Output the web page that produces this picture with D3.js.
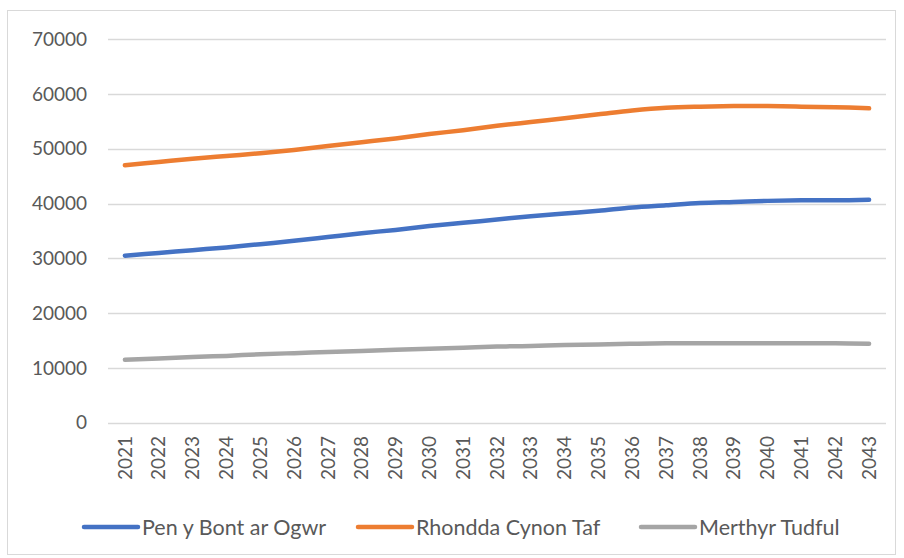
<!DOCTYPE html>
<html>
<head>
<meta charset="utf-8">
<script src="https://d3js.org/d3.v7.min.js"></script>
<style>
body { margin: 0; background: #fff; font-family: Lato, "Open Sans", sans-serif; }
text { fill: #595959; }
</style>
</head>
<body>
<svg id="chart"></svg>
<script>
var years = ["2021","2022","2023","2024","2025","2026","2027","2028","2029","2030","2031","2032",
             "2033","2034","2035","2036","2037","2038","2039","2040","2041","2042","2043"];

var penybont = [30500,31000,31500,32000,32600,33200,33900,34600,35200,35900,36500,37100,
                37700,38200,38700,39300,39700,40100,40300,40500,40600,40600,40700];
var rhondda  = [47000,47600,48200,48700,49200,49800,50500,51200,51900,52700,53400,54200,
                54900,55600,56300,57000,57500,57700,57800,57800,57700,57600,57400];
var merthyr  = [11500,11700,12000,12200,12500,12700,12900,13100,13300,13500,13700,13900,
                14000,14200,14300,14400,14500,14500,14500,14500,14500,14500,14400];

var seriesNames = ["Pen y Bont ar Ogwr", "Rhondda Cynon Taf", "Merthyr Tudful"];
var yTicks = [0,10000,20000,30000,40000,50000,60000,70000];

var W = 904, H = 558;
var svg = d3.select("#chart").attr("width", W).attr("height", H);

// chart frame
svg.append("rect")
  .attr("x", 7.5).attr("y", 10.5)
  .attr("width", 888).attr("height", 544)
  .style("fill", "#fff").style("stroke", "#d9d9d9").style("stroke-width", 1);

var x = d3.scaleBand().domain(years).range([108, 886]).padding(0);
var y = d3.scaleLinear().domain([0, 70000]).range([422.7, 39.3]);

// gridlines
svg.append("g").selectAll("line").data(yTicks).enter().append("line")
  .attr("x1", 108).attr("x2", 886)
  .attr("y1", function(d){ return Math.round(y(d)) + 0.5; })
  .attr("y2", function(d){ return Math.round(y(d)) + 0.5; })
  .style("stroke", "#d9d9d9").style("stroke-width", 1.5);

// y axis labels
var yAxis = d3.axisLeft(y).tickValues(yTicks).tickSize(0).tickPadding(0)
  .tickFormat(function(d){ return d; });
var gy = svg.append("g").attr("transform", "translate(87,0)").call(yAxis);
gy.select(".domain").remove();
gy.selectAll("text").style("font-size", "19px").style("font-family", "Lato, sans-serif").style("fill", "#595959");

// x axis labels (rotated)
var gx = svg.append("g");
gx.selectAll("text").data(years).enter().append("text")
  .attr("transform", function(d){ return "translate(" + (x(d) + x.bandwidth()/2) + ",436) rotate(-90)"; })
  .attr("dy", "0.35em")
  .style("text-anchor", "end")
  .style("font-size", "19px")
  .text(function(d){ return d; });

// lines
var colors = ["#4472c4", "#ed7d31", "#a5a5a5"];
var data = [penybont, rhondda, merthyr];
var line = d3.line()
  .x(function(d, i){ return x(years[i]) + x.bandwidth()/2; })
  .y(function(d){ return y(d); })
  .curve(d3.curveCatmullRom.alpha(0.5));

svg.append("g").selectAll("path").data(data).enter().append("path")
  .attr("d", line)
  .style("fill", "none")
  .style("stroke", function(d, i){ return colors[i]; })
  .style("stroke-width", 4.5)
  .style("stroke-linecap", "round")
  .style("stroke-linejoin", "round");

// legend
var legendX = [84, 358, 641];
var leg = svg.append("g").selectAll("g").data(seriesNames).enter().append("g")
  .attr("transform", function(d, i){ return "translate(" + legendX[i] + ",527)"; });
leg.append("line")
  .attr("x1", 0).attr("x2", 54).attr("y1", 0).attr("y2", 0)
  .style("stroke", function(d, i){ return colors[i]; })
  .style("stroke-width", 4.5)
  .style("stroke-linecap", "round");
leg.append("text")
  .attr("x", 58).attr("dy", "0.35em")
  .style("font-size", "21.5px")
  .text(function(d){ return d; });
</script>
</body>
</html>
